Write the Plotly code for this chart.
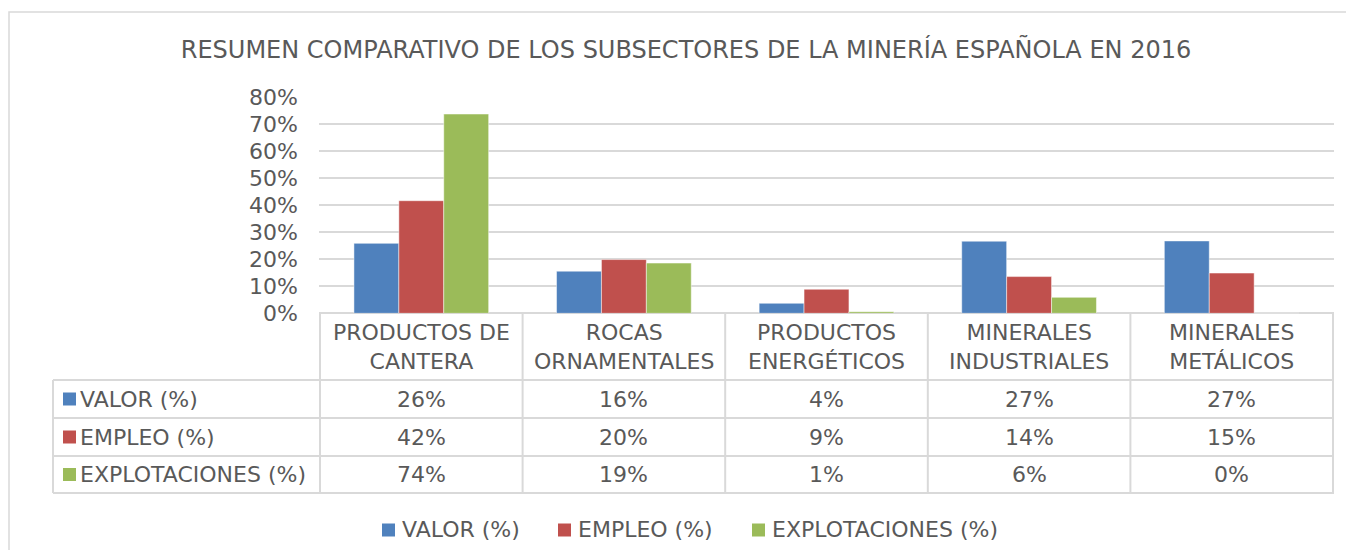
import plotly.graph_objects as go

# ---------------- data ----------------
categories = ["PRODUCTOS DE<br>CANTERA", "ROCAS<br>ORNAMENTALES", "PRODUCTOS<br>ENERGÉTICOS",
              "MINERALES<br>INDUSTRIALES", "MINERALES<br>METÁLICOS"]
series_names = ["VALOR (%)", "EMPLEO (%)", "EXPLOTACIONES (%)"]
valor = [0.259, 0.156, 0.037, 0.267, 0.268]
empleo = [0.417, 0.199, 0.089, 0.136, 0.149]
explotaciones = [0.738, 0.186, 0.006, 0.059, 0.0]
colors = ["#4F81BD", "#C0504D", "#9BBB59"]
y_ticks = [0, 0.1, 0.2, 0.3, 0.4, 0.5, 0.6, 0.7, 0.8]
title_text = "RESUMEN COMPARATIVO DE LOS SUBSECTORES DE LA MINERÍA ESPAÑOLA EN 2016"

series_values = [valor, empleo, explotaciones]

# page has an 8px body margin: the figure is sized to fit inside it
PAGE_W, PAGE_H = 1354, 558
OFF = 8
W, H = PAGE_W - 2 * OFF, PAGE_H - 2 * OFF
FONT = "DejaVu Sans, Verdana, sans-serif"
TXT = "#595959"
GRID = "#d9d9d9"


def px(x):
    """page pixel x -> paper fraction"""
    return (x - OFF) / W


def py(y):
    """page pixel y -> paper fraction"""
    return 1 - (y - OFF) / H


fig = go.Figure()
for name, vals, col in zip(series_names, series_values, colors):
    fig.add_trace(go.Bar(x=categories, y=vals, name=name, marker_color=col, showlegend=False,
                         marker_line=dict(color="rgba(255,255,255,0.6)", width=0.8)))

# plot-area geometry (page pixels)
L, R, T, B = 319, 1334, 97.3, 313.3
TL = 53  # table left edge
rows_y = [380, 418, 456, 493]

shapes = []
# outer chart border (only top/left visible)
shapes.append(dict(type="rect", xref="paper", yref="paper", x0=px(9), x1=px(1400), y0=py(12), y1=py(600),
                   line=dict(color=GRID, width=1.5)))
# table horizontal lines
for yy in rows_y:
    shapes.append(dict(type="line", xref="paper", yref="paper", x0=px(TL), x1=px(R), y0=py(yy), y1=py(yy),
                       line=dict(color=GRID, width=2)))
# table left edge
shapes.append(dict(type="line", xref="paper", yref="paper", x0=px(TL), x1=px(TL), y0=py(rows_y[0]), y1=py(rows_y[-1]),
                   line=dict(color=GRID, width=2)))
# vertical lines at category boundaries
for i in range(len(categories) + 1):
    shapes.append(dict(type="line", xref="x", yref="paper", x0=i - 0.5, x1=i - 0.5, y0=py(B), y1=py(rows_y[-1]),
                       line=dict(color=GRID, width=2)))
# legend keys in table
for k, col in enumerate(colors):
    yc = (rows_y[k] + rows_y[k + 1]) / 2
    shapes.append(dict(type="rect", xref="paper", yref="paper", x0=px(63), x1=px(76), y0=py(yc - 6.5), y1=py(yc + 6.5),
                       fillcolor=col, line=dict(width=0)))

annotations = []
# category headers
for c in categories:
    annotations.append(dict(x=c, xref="x", y=py((B + rows_y[0]) / 2), yref="paper", text=c, showarrow=False,
                            xanchor="center", yanchor="middle", font=dict(size=22, color=TXT, family=FONT)))
# rows
for k, (name, vals) in enumerate(zip(series_names, series_values)):
    yc = (rows_y[k] + rows_y[k + 1]) / 2
    annotations.append(dict(x=px(80), xref="paper", y=py(yc), yref="paper", text=name, showarrow=False,
                            xanchor="left", yanchor="middle", xshift=-2, font=dict(size=22, color=TXT, family=FONT)))
    for c, v in zip(categories, vals):
        annotations.append(dict(x=c, xref="x", y=py(yc), yref="paper", text=f"{v:.0%}", showarrow=False,
                                xanchor="center", yanchor="middle", font=dict(size=22, color=TXT, family=FONT)))

# bottom legend (drawn manually to match spacing)
legend_sq_x = [382, 558, 752]
LEG_Y = 529
for name, col, sx in zip(series_names, colors, legend_sq_x):
    shapes.append(dict(type="rect", xref="paper", yref="paper", x0=px(sx), x1=px(sx + 13),
                       y0=py(LEG_Y + 7.5), y1=py(LEG_Y - 5.5), fillcolor=col, line=dict(width=0)))
    annotations.append(dict(x=px(sx + 18), xref="paper", y=py(LEG_Y), yref="paper", text=name, showarrow=False,
                            xanchor="left", yanchor="middle", font=dict(size=22, color=TXT, family=FONT)))

fig.update_layout(
    width=W, height=H, autosize=False,
    margin=dict(l=0, r=0, t=0, b=0, pad=0, autoexpand=False),
    paper_bgcolor="white", plot_bgcolor="white",
    font=dict(family=FONT, color=TXT, size=22),
    title=dict(text=title_text, x=px(686), xanchor="center", y=py(50), yanchor="middle",
               font=dict(size=24, color=TXT, family=FONT)),
    barmode="group", bargap=0.335, bargroupgap=0,
    showlegend=False,
    xaxis=dict(domain=[px(L), px(R)], showticklabels=False, showgrid=False, zeroline=False,
               showline=False, ticks="", automargin=False),
    yaxis=dict(domain=[py(B), py(T)], range=[0, 0.8], tickvals=y_ticks, tickformat=".0%",
               showgrid=True, gridcolor=GRID, gridwidth=1.5, zeroline=True, zerolinecolor=GRID,
               zerolinewidth=2, showline=False, ticks="", ticklabelstandoff=20, automargin=False,
               tickfont=dict(size=22, color=TXT, family=FONT)),
    shapes=shapes, annotations=annotations,
)

fig.write_html("out.html")
